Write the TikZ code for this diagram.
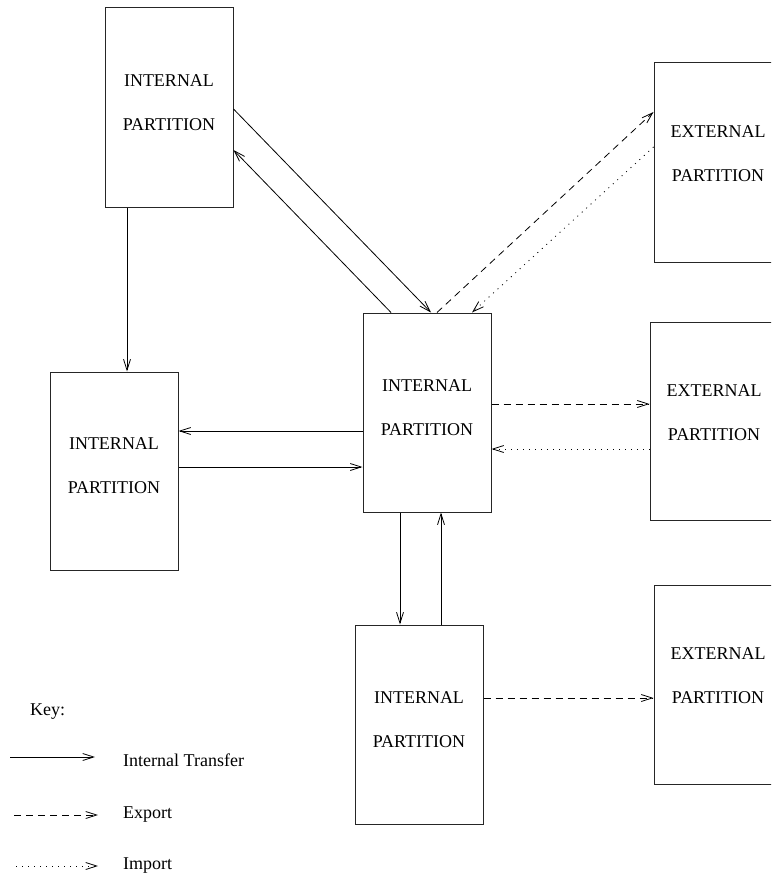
\documentclass[tikz,border=0pt]{standalone}
\usepackage{fontspec}
\setmainfont{Liberation Serif}
\usetikzlibrary{arrows.meta,calc}
\begin{document}
\begin{tikzpicture}[x=1pt,y=-1pt,
  part/.style={draw=black!85,line width=1pt,minimum width=128pt,minimum height=199pt,
    inner sep=0pt,align=center,font={\fontsize{18}{44}\selectfont},text depth=10pt},
  extpart/.style={part,text depth=17pt},
  conn/.style={line width=0.8pt,-{Straight Barb[length=11pt,width=7pt,line width=0.8pt]}},
  exportln/.style={conn,dash pattern=on 7pt off 5pt},
  importln/.style={conn,dash pattern=on 1pt off 5pt},
  keytext/.style={font={\fontsize{18}{22}\selectfont},anchor=west,inner sep=0pt}]
\useasboundingbox (0,0) rectangle (771,877);
\clip (0,0) rectangle (771,877);
\node[part,minimum height=200pt] (t1) at (169,108) {INTERNAL\\PARTITION};
\node[part] (c1) at (427,412.5) {INTERNAL\\PARTITION};
\node[part,minimum height=198pt] (l1) at (114,471) {INTERNAL\\PARTITION};
\node[part] (b1) at (419,724.5) {INTERNAL\\PARTITION};
\node[extpart] (e1) at (718,162.5) {EXTERNAL\\PARTITION};
\node[extpart,minimum height=198pt] (e2) at (714,421) {EXTERNAL\\PARTITION};
\node[extpart] (e3) at (718,684.5) {EXTERNAL\\PARTITION};

\draw[conn] ($(t1.south)+(-42,0)$) -- ($(l1.north)+(13,0)$);
\draw[conn] ($(t1.east)+(0,1)$) -- ($(c1.north)+(4,0)$);
\draw[conn] ($(c1.north)+(-36,0)$) -- ($(t1.east)+(0,42)$);
\draw[exportln] ($(c1.north)+(10,0)$) -- ($(e1.west)+(0,-50.5)$);
\draw[importln] ($(e1.west)+(0,-15.5)$) -- ($(c1.north)+(45,0)$);
\draw[conn] ($(c1.west)+(0,18.5)$) -- ($(l1.east)+(0,-40)$);
\draw[conn] ($(l1.east)+(0,-4)$) -- ($(c1.west)+(0,54.5)$);
\draw[exportln] ($(c1.east)+(0,-8.5)$) -- ($(e2.west)+(0,-17)$);
\draw[importln] ($(e2.west)+(0,28)$) -- ($(c1.east)+(0,36.5)$);
\draw[conn] ($(c1.south)+(-27,0)$) -- ($(b1.north)+(-19,0)$);
\draw[conn] ($(b1.north)+(22,0)$) -- ($(c1.south)+(14,0)$);
\draw[exportln] ($(b1.east)+(0,-26.5)$) -- ($(e3.west)+(0,13.5)$);

\node[keytext] (key) at (30,712) {Key:};
\coordinate (k1a) at (10,757); \coordinate (k1b) at (95,757);
\coordinate (k2a) at (14,815); \coordinate (k2b) at (98,815);
\coordinate (k3a) at (16,866); \coordinate (k3b) at (98,866);
\draw[conn] (k1a) -- (k1b);
\draw[exportln] (k2a) -- (k2b);
\draw[importln] (k3a) -- (k3b);
\node[keytext] (kt1) at (123,760) {Internal Transfer};
\node[keytext] (kt2) at (123,815) {Export};
\node[keytext] (kt3) at (123,866) {Import};
\end{tikzpicture}
\end{document}
